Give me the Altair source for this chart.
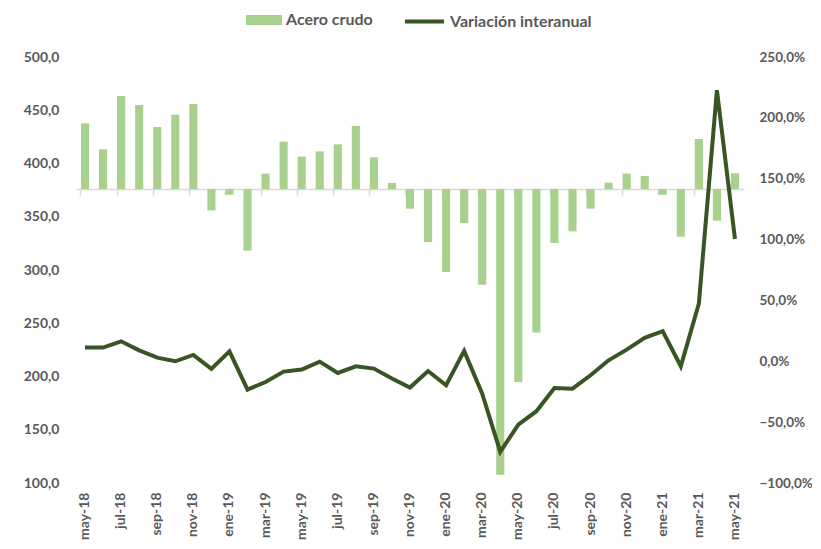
import altair as alt
import pandas as pd

months = ["may-18", "jun-18", "jul-18", "ago-18", "sep-18", "oct-18", "nov-18", "dic-18",
          "ene-19", "feb-19", "mar-19", "abr-19", "may-19", "jun-19", "jul-19", "ago-19",
          "sep-19", "oct-19", "nov-19", "dic-19", "ene-20", "feb-20", "mar-20", "abr-20",
          "may-20", "jun-20", "jul-20", "ago-20", "sep-20", "oct-20", "nov-20", "dic-20",
          "ene-21", "feb-21", "mar-21", "abr-21", "may-21"]

acero = [437.7, 413.3, 463.4, 455.0, 434.3, 445.8, 455.9, 356.0, 370.7, 318.2, 390.5, 420.5,
         406.5, 411.4, 418.0, 435.2, 405.8, 381.7, 357.6, 326.3, 298.1, 344.1, 286.2, 107.8,
         194.8, 241.4, 325.4, 336.3, 357.6, 382.0, 390.5, 388.3, 370.7, 331.3, 423.0, 346.3,
         390.8]

variacion = [11.3, 11.3, 16.4, 9.0, 3.0, 0.0, 5.2, -6.3, 8.2, -23.3, -17.0, -8.5, -6.8, -0.3,
             -9.6, -4.1, -6.0, -14.2, -21.6, -8.0, -19.7, 8.5, -26.6, -74.5, -52.0, -41.0,
             -21.9, -22.5, -11.5, 0.8, 9.6, 19.2, 24.7, -4.1, 47.4, 222.7, 100.5]

tick_labels = months[::2]
left_ticks = [100, 150, 200, 250, 300, 350, 400, 450, 500]
right_ticks = [-100, -50, 0, 50, 100, 150, 200, 250]
series = ["Acero crudo", "Variación interanual"]

BASE = 376
LEFT_DOMAIN = [100, 500]
RIGHT_DOMAIN = [-100, 250]
W, H = 668, 426
# vertical offset of the baseline axis, measured up from the bottom of the plot
BASE_OFFSET = -(BASE - LEFT_DOMAIN[0]) / (LEFT_DOMAIN[1] - LEFT_DOMAIN[0]) * H

df = pd.DataFrame({"mes": months, "acero": acero, "var": variacion,
                   "s1": series[0], "s2": series[1]})

FONT = "Lato"
GRAY = "#595959"
BAR = "#a9d18e"
LINE = "#375623"

bars = alt.Chart(df).mark_bar().encode(
    x=alt.X("mes:N", sort=months,
            scale=alt.Scale(paddingInner=0.55),
            axis=alt.Axis(values=tick_labels, labelAngle=-90, labelAlign="right",
                          labelBaseline="middle", domain=False, ticks=False, grid=False,
                          labelPadding=9, labelFont=FONT, labelFontSize=14,
                          labelFontWeight="bold", labelColor=GRAY, title=None)),
    y=alt.Y("acero:Q",
            scale=alt.Scale(domain=LEFT_DOMAIN, nice=False, zero=False),
            axis=alt.Axis(values=left_ticks, grid=False, domain=False, ticks=False,
                          labelExpr="replace(format(datum.value,'.1f'),'.',',')",
                          labelPadding=17, labelFont=FONT, labelFontSize=14,
                          labelFontWeight="bold", labelColor=GRAY, title=None)),
    y2=alt.datum(BASE),
    fill=alt.Fill("s1:N", scale=alt.Scale(domain=[series[0]], range=[BAR]),
                  legend=alt.Legend(title=None, orient="none", legendX=170, legendY=-55,
                                    symbolType="M-1,-0.28L1,-0.28L1,0.28L-1,0.28Z",
                                    symbolSize=1296, symbolStrokeWidth=0, padding=0,
                                    labelFont=FONT, labelFontSize=16, labelFontWeight="bold",
                                    labelColor=GRAY, labelOffset=4)),
)

line = alt.Chart(df).mark_line(strokeWidth=4).encode(
    x=alt.X("mes:N", sort=months,
            axis=alt.Axis(orient="bottom", offset=BASE_OFFSET, values=tick_labels,
                          bandPosition=0, labels=False, domainColor="#d9d9d9",
                          domainWidth=1.5, tickColor="#d9d9d9", tickSize=6, tickWidth=1.5,
                          grid=False, title=None)),
    y=alt.Y("var:Q",
            scale=alt.Scale(domain=RIGHT_DOMAIN, nice=False, zero=False),
            axis=alt.Axis(orient="right", values=right_ticks, grid=False, domain=False,
                          ticks=False,
                          labelExpr="replace(format(datum.value,'.1f'),'.',',') + '%'",
                          labelPadding=15, labelFont=FONT, labelFontSize=13.5,
                          labelFontWeight="bold", labelColor=GRAY, title=None)),
    stroke=alt.Stroke("s2:N", scale=alt.Scale(domain=[series[1]], range=[LINE]),
                      legend=alt.Legend(title=None, orient="none", legendX=327, legendY=-57,
                                        symbolType="stroke", symbolSize=1521,
                                        symbolStrokeWidth=4, padding=0,
                                        labelFont=FONT, labelFontSize=16,
                                        labelFontWeight="bold", labelColor=GRAY,
                                        labelOffset=4)),
)

chart = alt.layer(bars, line).resolve_scale(y="independent").resolve_axis(
    x="independent"
).properties(
    width=W, height=H,
    autosize=alt.AutoSizeParams(type="none"),
    padding={"left": 68, "top": 49, "right": 68, "bottom": 57},
).configure_view(stroke=None)

chart.save("out.html", embed_options={"renderer": "svg", "actions": False})
